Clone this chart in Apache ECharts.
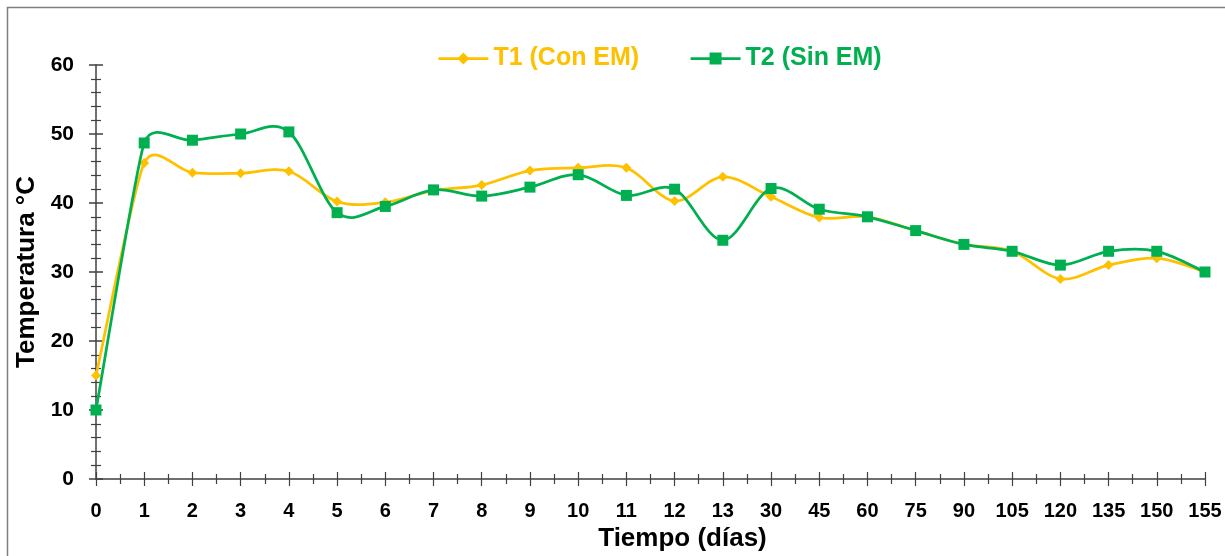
<!DOCTYPE html>
<html>
<head>
<meta charset="utf-8">
<script src="https://cdn.jsdelivr.net/npm/echarts@6/dist/echarts.min.js"></script>
<style>
  html, body { margin: 0; padding: 0; background: #ffffff; }
  #chart { width: 1225px; height: 556px; }
</style>
</head>
<body>
<div id="chart"></div>
<script>
// Sampling days (categorical axis)
const days = ['0', '1', '2', '3', '4', '5', '6', '7', '8', '9', '10', '11', '12', '13',
              '30', '45', '60', '75', '90', '105', '120', '135', '150', '155'];

// Temperature (°C) per treatment
const t1ConEM = [15, 45.8, 44.4, 44.3, 44.6, 40.2, 40.1, 41.8, 42.6, 44.7, 45.1, 45.1, 40.3, 43.8,
                 40.9, 37.9, 38, 36, 34, 33, 29, 31, 32, 30];
const t2SinEM = [10, 48.7, 49.1, 50, 50.3, 38.6, 39.5, 41.9, 41.0, 42.3, 44.1, 41.1, 42.0, 34.6,
                 42.1, 39.1, 38, 36, 34, 33, 31, 33, 33, 30];

const seriesNames = ['T1 (Con EM)', 'T2 (Sin EM)'];
const yTicks = { min: 0, max: 60, step: 10 };

const YELLOW = '#FFC000';
const GREEN = '#00B050';
const AXIS = '#404040';
const FONT = '"Liberation Sans", Arial, sans-serif';
const LINE_W = 2.75;

const chart = echarts.init(document.getElementById('chart'), null, { renderer: 'canvas' });

// Bezier path through pixel points: tangent along (next - prev), length 1/6 of it,
// capped at half of the shorter neighbouring segment.
function smoothPath(pts) {
  const n = pts.length;
  const dist = (a, b) => Math.hypot(b[0] - a[0], b[1] - a[1]);
  const handles = pts.map((p, i) => {
    const prev = i > 0 ? pts[i - 1] : null;
    const next = i < n - 1 ? pts[i + 1] : null;
    const a = prev || p, b = next || p;
    const tx = b[0] - a[0], ty = b[1] - a[1];
    const tl = Math.hypot(tx, ty) || 1;
    const segs = [];
    if (prev) segs.push(dist(prev, p));
    if (next) segs.push(dist(p, next));
    const s = Math.min(1 / 6, 0.5 * Math.min.apply(null, segs) / tl);
    return { inX: p[0] - tx * s, inY: p[1] - ty * s, outX: p[0] + tx * s, outY: p[1] + ty * s };
  });
  let d = 'M' + pts[0][0] + ' ' + pts[0][1];
  for (let i = 0; i < n - 1; i++) {
    const h0 = handles[i], h1 = handles[i + 1], p = pts[i + 1];
    d += ' C' + h0.outX + ' ' + h0.outY + ' ' + h1.inX + ' ' + h1.inY + ' ' + p[0] + ' ' + p[1];
  }
  return d;
}

function curveSeries(values, color, z) {
  return {
    type: 'custom', coordinateSystem: 'cartesian2d', xAxisIndex: 0, yAxisIndex: 0,
    silent: true, z: z, clip: false,
    data: values.map((v, i) => [i, v]),
    encode: { x: 0, y: 1 },
    renderItem: function (params, api) {
      if (params.dataIndex !== 0) return null;
      const pts = values.map((v, i) => api.coord([i, v]));
      return {
        type: 'path',
        shape: { pathData: smoothPath(pts) },
        style: { fill: 'none', stroke: color, lineWidth: LINE_W }
      };
    }
  };
}

// Tick-only axes laid over the category axis so ticks cross the axis line
function tickXAxis(inside) {
  return {
    type: 'value', position: 'bottom', gridIndex: 0,
    min: 0, max: days.length - 1, interval: 1,
    axisLine: { show: false },
    axisLabel: { show: false },
    splitLine: { show: false },
    axisTick: { show: true, inside: inside, length: 7, lineStyle: { color: AXIS, width: 1.2 } },
    minorTick: { show: true, splitNumber: 2, length: 5, lineStyle: { color: AXIS, width: 1.2 } },
    silent: true
  };
}
function yAxisDef(inside, withLabels) {
  return {
    type: 'value', position: 'left', gridIndex: 0,
    min: yTicks.min, max: yTicks.max, interval: yTicks.step,
    axisLine: { show: withLabels, lineStyle: { color: AXIS, width: 1.5 } },
    axisTick: { show: true, inside: inside, length: 7, lineStyle: { color: AXIS, width: 1.5 } },
    minorTick: { show: true, splitNumber: 5, length: 5, lineStyle: { color: AXIS, width: 1.2 } },
    splitLine: { show: false },
    axisLabel: {
      show: withLabels, margin: 22, color: '#000', fontFamily: FONT,
      fontWeight: 'bold', fontSize: 21
    },
    name: withLabels ? 'Temperatura °C' : '',
    nameLocation: 'middle',
    nameGap: 45,
    nameTextStyle: { color: '#000', fontFamily: FONT, fontWeight: 'bold', fontSize: 26 }
  };
}

const option = {
  animation: false,
  backgroundColor: '#ffffff',
  graphic: [{
    type: 'rect', silent: true, z: -10,
    shape: { x: 7.5, y: 7.5, width: 1400, height: 700 },
    style: { fill: 'none', stroke: '#7f7f7f', lineWidth: 1.5 }
  }],
  legend: {
    left: 432, top: 41,
    itemWidth: 50, itemHeight: 15, itemGap: 50,
    textStyle: { fontFamily: FONT, fontWeight: 'bold', fontSize: 25 },
    data: [
      { name: seriesNames[0], textStyle: { color: YELLOW },
        lineStyle: { color: YELLOW, width: LINE_W, opacity: 1 } },
      { name: seriesNames[1], textStyle: { color: GREEN },
        lineStyle: { color: GREEN, width: LINE_W, opacity: 1 } }
    ]
  },
  grid: { left: 96, right: 20, top: 65, bottom: 77, containLabel: false, outerBoundsMode: 'none' },
  xAxis: [
    {
      type: 'category', position: 'bottom', data: days, boundaryGap: false,
      axisLine: { show: true, lineStyle: { color: AXIS, width: 1.5 } },
      axisTick: { show: false },
      splitLine: { show: false },
      axisLabel: {
        margin: 22, color: '#000', fontFamily: FONT, fontWeight: 'bold', fontSize: 20,
        interval: 0
      },
      name: 'Tiempo (días)',
      nameLocation: 'middle',
      nameGap: 41,
      nameTextStyle: {
        color: '#000', fontFamily: FONT, fontWeight: 'bold', fontSize: 26,
        padding: [0, 0, 0, 64]
      }
    },
    tickXAxis(false),
    tickXAxis(true)
  ],
  yAxis: [yAxisDef(false, true), yAxisDef(true, false)],
  series: [
    curveSeries(t1ConEM, YELLOW, 2),
    {
      name: seriesNames[0], type: 'line', data: t1ConEM,
      xAxisIndex: 0, yAxisIndex: 0,
      symbol: 'diamond', symbolSize: 10,
      lineStyle: { color: YELLOW, width: LINE_W, opacity: 0 },
      itemStyle: { color: YELLOW },
      z: 3
    },
    curveSeries(t2SinEM, GREEN, 4),
    {
      name: seriesNames[1], type: 'line', data: t2SinEM,
      xAxisIndex: 0, yAxisIndex: 0,
      symbol: 'rect', symbolSize: 11,
      lineStyle: { color: GREEN, width: LINE_W, opacity: 0 },
      itemStyle: { color: GREEN },
      z: 5
    }
  ]
};

chart.setOption(option);
</script>
</body>
</html>
